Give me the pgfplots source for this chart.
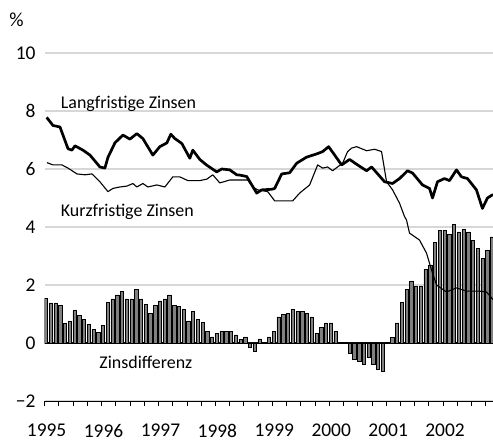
\documentclass[border=0pt]{standalone}
\usepackage{fontspec}
\setmainfont{Carlito}
\usepackage{pgfplots}
\pgfplotsset{compat=1.18}
\definecolor{gridgray}{RGB}{215,215,215}
\definecolor{barfill}{RGB}{128,128,128}
\begin{document}
\begin{tikzpicture}
\path[use as bounding box] (0,0) rectangle (493bp,441bp);
\begin{axis}[
  at={(44.7bp,40bp)}, anchor=south west,
  scale only axis, width=448.3bp, height=348bp,
  xmin=0, xmax=94.5, ymin=-2, ymax=10,
  axis lines*=left,
  y axis line style={draw=none},
  x axis line style={black, line width=1bp},
  clip mode=individual,
  xtick align=outside,
  xtick={0.4,12.4,24.4,36.4,48.4,60.4,72.4,84.4},
  xticklabels={1995,1996,1997,1998,1999,2000,2001,2002},
  xticklabel style={anchor=north, inner sep=0pt, yshift=-23bp},
  major tick length=0pt,
  minor xtick={0,3,...,93},
  minor tick length=5bp,
  every minor tick/.append style={black, line width=1bp},
  ytick={-2,2,4,6,8,10},
  yticklabels={−2,2,4,6,8,10},
  ytick style={draw=none},
  yticklabel style={anchor=east, inner sep=0pt, xshift=-9bp},
  ymajorgrids, grid style={gridgray, line width=1.1bp},
  extra y ticks={0}, extra y tick labels={0},
  extra y tick style={grid style={black, line width=1.3bp}},
  tick label style={font=\fontsize{19.5}{23}\selectfont},
]
% Zinsdifferenz (monthly bars)
\addplot[ybar, bar width=3.3bp, fill=barfill, draw=black, line width=0.7bp] coordinates {
(0.3,1.53)(1.3,1.38)(2.3,1.38)(3.3,1.31)(4.3,0.68)(5.3,0.75)(6.3,1.11)(7.3,0.96)(8.3,0.82)(9.3,0.63)
(10.3,0.47)(11.3,0.35)(12.3,0.61)(13.3,1.39)(14.3,1.52)(15.3,1.66)(16.3,1.79)(17.3,1.52)(18.3,1.52)(19.3,1.86)
(20.3,1.52)(21.3,1.32)(22.3,1.03)(23.3,1.31)(24.3,1.45)(25.3,1.52)(26.3,1.66)(27.3,1.31)(28.3,1.26)(29.3,1.17)
(30.3,0.76)(31.3,1.10)(32.3,0.82)(33.3,0.70)(34.3,0.41)(35.3,0.21)(36.3,0.34)(37.3,0.41)(38.3,0.41)(39.3,0.41)
(40.3,0.28)(41.3,0.13)(42.3,0.21)(43.3,-0.16)(44.3,-0.30)(45.3,0.14)(47.3,0.21)(48.3,0.41)(49.3,0.90)
(50.3,0.98)(51.3,1.03)(52.3,1.17)(53.3,1.10)(54.3,1.10)(55.3,1.03)(56.3,0.90)(57.3,0.34)(58.3,0.55)(59.3,0.69)
(60.3,0.69)(61.3,0.41)(64.3,-0.37)(65.3,-0.58)(66.3,-0.64)(67.3,-0.72)(68.3,-0.51)(69.3,-0.72)
(70.3,-0.92)(71.3,-0.98)(73.3,0.20)(74.3,0.69)(75.3,1.39)(76.3,1.86)(77.3,2.14)(78.3,1.94)(79.3,1.94)
(80.3,2.55)(81.3,2.69)(82.3,3.47)(83.3,3.88)(84.3,3.88)(85.3,3.73)(86.3,4.08)(87.3,3.83)(88.3,3.91)(89.3,3.83)
(90.3,3.53)(91.3,3.27)(92.3,2.92)(93.3,3.18)(94.3,3.66)
};
% Kurzfristige Zinsen
\addplot[black, line width=1.1bp, line join=round] coordinates {
(0.48,6.22)(1.75,6.14)(3.64,6.14)(4.91,6.03)(6.8,5.83)(8.48,5.80)(9.96,5.83)(11.64,5.56)(13.33,5.22)(14.38,5.33)
(15.85,5.38)(17.33,5.41)(18.59,5.50)(19.43,5.38)(20.69,5.50)(21.75,5.38)(23.64,5.45)(25.33,5.38)(27.01,5.73)(28.48,5.73)
(30.17,5.60)(32.69,5.60)(34.17,5.65)(35.43,5.80)(36.91,5.52)(39.01,5.62)(41.12,5.62)(42.8,5.62)(43.85,5.38)(44.91,5.28)
(47.01,5.22)(48.48,4.90)(52.27,4.90)(53.75,5.17)(55.85,5.45)(57.54,6.14)(58.59,6.03)(59.64,6.07)(60.69,5.94)(62.8,6.20)
(63.85,6.60)(64.69,6.72)(65.75,6.77)(67.85,6.63)(69.54,6.68)(71.01,6.60)(72.06,5.56)(73.33,5.28)(74.8,4.82)(75.85,4.36)
(76.27,4.24)(76.9,3.79)(79.01,3.55)(80.48,3.10)(81.54,2.52)(82.59,2.00)(84.69,1.76)(86.8,1.90)(88.9,1.79)(91.64,1.79)
(93.12,1.76)(94.5,1.50)
};
% Langfristige Zinsen
\addplot[black, line width=2.7bp, line join=round] coordinates {
(0.42,7.78)(1.75,7.50)(3.22,7.45)(4.91,6.70)(5.75,6.65)(6.38,6.80)(8.06,6.65)(9.54,6.48)(11.64,6.07)(12.69,6.03)
(13.33,6.40)(14.8,6.90)(16.48,7.17)(17.96,7.03)(19.43,7.22)(20.69,7.05)(22.8,6.48)(24.27,6.77)(25.75,6.90)(26.59,7.20)
(27.43,7.05)(28.91,6.88)(30.59,6.37)(31.22,6.65)(32.69,6.33)(34.17,6.13)(36.27,5.90)(37.33,6.00)(39.01,5.97)(40.48,5.80)
(41.12,5.79)(42.59,5.74)(44.69,5.17)(45.75,5.28)(47.85,5.30)(48.48,5.33)(49.96,5.83)(51.64,5.87)(53.12,6.20)(55.22,6.41)
(57.33,6.52)(58.59,6.60)(59.85,6.77)(61.12,6.48)(62.59,6.14)(64.27,6.33)(65.96,6.14)(67.85,5.94)(68.91,6.07)(71.64,5.56)
(73.33,5.50)(74.8,5.67)(76.48,5.94)(77.54,5.86)(79.64,5.45)(81.12,5.33)(81.75,5.00)(82.8,5.56)(84.27,5.67)(85.33,5.60)
(86.8,5.97)(87.85,5.73)(89.12,5.67)(91.01,5.28)(92.27,4.64)(93.33,5.00)(94.5,5.12)
};
\node[anchor=base west, inner sep=0pt, font=\fontsize{18}{22}\selectfont] at (axis cs:3.37,8.09) {Langfristige Zinsen};
\node[anchor=base west, inner sep=0pt, font=\fontsize{18}{22}\selectfont] at (axis cs:3.37,4.37) {Kurzfristige Zinsen};
\node[anchor=base west, inner sep=0pt, font=\fontsize{18}{22}\selectfont] at (axis cs:11.5,-0.88) {Zinsdifferenz};
\node[inner sep=0pt, font=\fontsize{20}{24}\selectfont] at (axis cs:-5.94,11.16) {\%};
\end{axis}
\end{tikzpicture}
\end{document}
